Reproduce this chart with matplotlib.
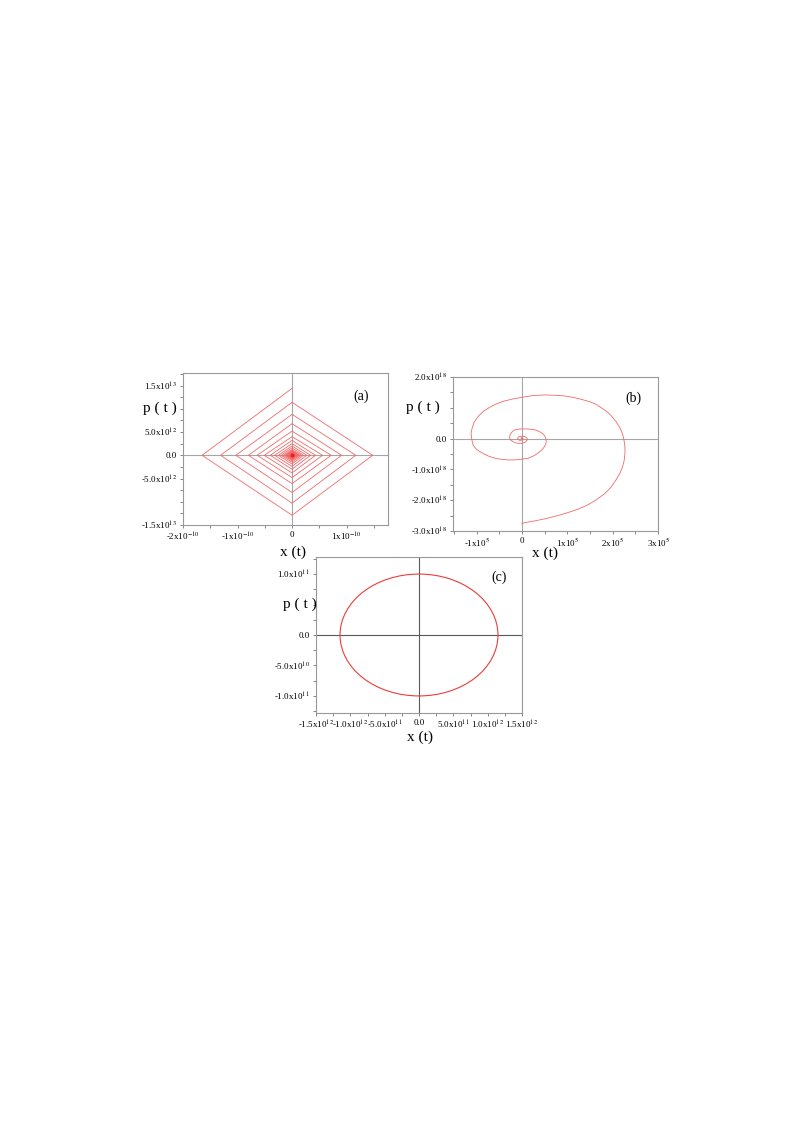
import numpy as np
import matplotlib
matplotlib.use("Agg")
from matplotlib import pyplot as plt
from matplotlib.patches import Ellipse
from matplotlib.ticker import MultipleLocator

plt.rcParams['font.family'] = ['Liberation Serif', 'DejaVu Serif']
plt.rcParams['mathtext.fontset'] = 'stix'

# (a) piecewise-linear spiral: vertices per turn (top, left, bottom, right)
# x in units of 1e-10, p in units of 1e13
a_top = [1.44, 1.14, 0.88, 0.68, 0.52, 0.40, 0.32, 0.25, 0.20, 0.16, 0.125, 0.10,
         0.078, 0.062, 0.049, 0.039, 0.031, 0.024, 0.019, 0.015, 0.012, 0.009,
         0.007, 0.0055, 0.0044, 0.0035, 0.0028]
a_left = [-1.65, -1.31, -1.03, -0.80, -0.64, -0.51, -0.40, -0.32, -0.25, -0.20, -0.16, -0.125,
          -0.099, -0.078, -0.062, -0.049, -0.039, -0.031, -0.024, -0.019, -0.015, -0.012,
          -0.0095, -0.0075, -0.006, -0.0047, -0.0037]
a_bottom = [-1.29, -1.03, -0.80, -0.61, -0.48, -0.38, -0.30, -0.24, -0.19, -0.15, -0.12, -0.095,
            -0.075, -0.059, -0.047, -0.037, -0.029, -0.023, -0.018, -0.014, -0.011, -0.008,
            -0.0064, -0.005, -0.004, -0.0032, -0.0025]
a_right = [1.48, 1.17, 0.91, 0.72, 0.56, 0.43, 0.34, 0.27, 0.21, 0.17, 0.135, 0.105,
           0.083, 0.066, 0.052, 0.041, 0.032, 0.026, 0.020, 0.016, 0.013, 0.010,
           0.008, 0.0063, 0.005, 0.004, 0.0032]

# (b) spiral: x in units of 1e5, p in units of 1e18
b_x = [0, 0.278, 0.498, 0.791, 1.011, 1.231, 1.451, 1.634, 1.817, 1.963, 2.073, 2.161,
       2.220, 2.256, 2.271, 2.271, 2.256, 2.234, 2.198, 2.147, 2.073, 1.985, 1.890, 1.766,
       1.634, 1.487, 1.304, 1.121, 0.938, 0.718, 0.498, 0.242, 0, -0.198, -0.381, -0.564,
       -0.711, -0.857, -0.967, -1.055, -1.099, -1.121, -1.114, -1.099, -1.077, -1.018,
       -0.930, -0.821, -0.711, -0.586, -0.454, -0.308, -0.161, -0.015, 0.132, 0.256,
       0.352, 0.440, 0.498, 0.527, 0.535, 0.527, 0.498, 0.447, 0.388, 0.300, 0.205,
       0.095, 0, -0.088, -0.161, -0.220, -0.256, -0.271, -0.271, -0.242, -0.198, -0.139,
       -0.073, 0, 0.059, 0.095, 0.117, 0.117, 0.103, 0.066, 0.022, -0.029, -0.073,
       -0.095, -0.088, -0.051, -0.007, 0.022, 0.022, 0, -0.022, -0.015, 0]
b_p = [-2.749, -2.673, -2.608, -2.500, -2.403, -2.294, -2.154, -1.991, -1.797, -1.580,
       -1.342, -1.126, -0.909, -0.693, -0.476, -0.281, -0.097, 0.065, 0.227, 0.390,
       0.552, 0.714, 0.855, 0.985, 1.115, 1.201, 1.277, 1.342, 1.385, 1.407, 1.418,
       1.396, 1.342, 1.288, 1.223, 1.126, 1.017, 0.877, 0.714, 0.530, 0.335, 0.173,
       0.065, -0.076, -0.206, -0.325, -0.422, -0.509, -0.584, -0.639, -0.671, -0.693,
       -0.693, -0.671, -0.639, -0.563, -0.476, -0.368, -0.260, -0.173, -0.097, 0.011,
       0.097, 0.173, 0.227, 0.281, 0.303, 0.314, 0.314, 0.303, 0.281, 0.216, 0.141,
       0.065, 0.011, -0.054, -0.097, -0.141, -0.152, -0.152, -0.130, -0.087, -0.043,
       0, 0.032, 0.065, 0.076, 0.076, 0.054, 0.011, -0.032, -0.054, -0.054, -0.022,
       0.011, 0.032, 0.022, 0, 0]

# (c) closed orbit
c_center = (0.0, 0.0)
c_x_amp = 1.15e12
c_p_amp = 1.0e11


def sci(m, e):
    return m + 'x10$^{' + e + '}$'


a_xticks = [-2e-10, -1e-10, 0, 1e-10]
a_xlabels = [sci('-2', '-10'), sci('-1', '-10'), '0', sci('1', '-10')]
a_yticks = [1.5e13, 1e13, 5e12, 0, -5e12, -1e13, -1.5e13]
a_ylabels = [sci('1.5', '13'), '', sci('5.0', '12'), '0.0', sci('-5.0', '12'), '', sci('-1.5', '13')]

b_xticks = [-1e5, 0, 1e5, 2e5, 3e5]
b_xlabels = [sci('-1', '5'), '0', sci('1', '5'), sci('2', '5'), sci('3', '5')]
b_yticks = [2e18, 1e18, 0, -1e18, -2e18, -3e18]
b_ylabels = [sci('2.0', '18'), '', '0.0', sci('-1.0', '18'), sci('-2.0', '18'), sci('-3.0', '18')]

c_xticks = [-1.5e12, -1e12, -5e11, 0, 5e11, 1e12, 1.5e12]
c_xlabels = [sci('-1.5', '12'), sci('-1.0', '12'), sci('-5.0', '11'), '0.0',
             sci('5.0', '11'), sci('1.0', '12'), sci('1.5', '12')]
c_yticks = [1e11, 5e10, 0, -5e10, -1e11]
c_ylabels = [sci('1.0', '11'), '', '0.0', sci('-5.0', '10'), sci('-1.0', '11')]

W, H = 788, 1134
fig = plt.figure(figsize=(W / 100, H / 100), dpi=100)
fig.patch.set_facecolor('white')


def make_axes(left, top, right, bottom):
    return fig.add_axes([left / W, 1 - bottom / H, (right - left) / W, (bottom - top) / H])


def style(ax, xt, xl, yt, yl, xminor, yminor, zero_col):
    ax.set_xticks(xt)
    ax.set_xticklabels(xl)
    ax.set_yticks(yt)
    ax.set_yticklabels(yl)
    ax.xaxis.set_minor_locator(MultipleLocator(xminor))
    ax.yaxis.set_minor_locator(MultipleLocator(yminor))
    ax.tick_params(which='both', direction='out', length=2.5, width=0.6, color='0.45',
                   labelsize=6.5, pad=2)
    for s in ax.spines.values():
        s.set_color('0.6')
        s.set_linewidth(0.8)
    ax.axhline(0, color=zero_col, lw=0.8, zorder=1)
    ax.axvline(0, color=zero_col, lw=0.8, zorder=1)


red = '#f06a6a'

# panel (a)
ax = make_axes(183, 373, 388, 525)
xs, ps = [], []
for t, l, b, r in zip(a_top, a_left, a_bottom, a_right):
    xs += [0, l * 1e-10, 0, r * 1e-10]
    ps += [t * 1e13, 0, b * 1e13, 0]
xs.append(0)
ps.append(0)
ax.plot(xs, ps, color=red, lw=0.6, zorder=2)
ax.plot([0], [0], 'o', color='#e82020', ms=3, mec='none', zorder=3)
ax.set_xlim(-2e-10, 1.76e-10)
ax.set_ylim(-1.5e13, 1.77e13)
style(ax, a_xticks, a_xlabels, a_yticks, a_ylabels, 0.5e-10, 2.5e12, '0.65')
ax.text(0.87, 0.85, '(a)', transform=ax.transAxes, fontsize=10, ha='center', va='center')
fig.text(160 / W, 1 - 408 / H, 'p ( t )', fontsize=11, ha='center', va='center')
fig.text(293 / W, 1 - 552 / H, 'x (t)', fontsize=11, ha='center', va='center')

# panel (b)
ax = make_axes(453, 377, 658, 531)
ax.plot(np.array(b_x) * 1e5, np.array(b_p) * 1e18, color=red, lw=0.6, zorder=2)
ax.set_xlim(-1.52e5, 3e5)
ax.set_ylim(-3e18, 2e18)
style(ax, b_xticks, b_xlabels, b_yticks, b_ylabels, 0.5e5, 0.5e18, '0.65')
ax.text(0.88, 0.86, '(b)', transform=ax.transAxes, fontsize=10, ha='center', va='center')
fig.text(423 / W, 1 - 407 / H, 'p ( t )', fontsize=11, ha='center', va='center')
fig.text(545 / W, 1 - 553 / H, 'x (t)', fontsize=11, ha='center', va='center')

# panel (c)
ax = make_axes(316, 557, 522, 713)
ax.add_patch(Ellipse(c_center, 2 * c_x_amp, 2 * c_p_amp, fill=False, edgecolor='#ee3b3b',
                     lw=0.8, zorder=2))
ax.set_xlim(-1.5e12, 1.5e12)
ax.set_ylim(-1.28e11, 1.28e11)
style(ax, c_xticks, c_xlabels, c_yticks, c_ylabels, 2.5e11, 2.5e10, '0.35')
ax.text(0.89, 0.87, '(c)', transform=ax.transAxes, fontsize=10, ha='center', va='center')
fig.text(300 / W, 1 - 604 / H, 'p ( t )', fontsize=11, ha='center', va='center')
fig.text(420 / W, 1 - 737 / H, 'x (t)', fontsize=11, ha='center', va='center')

fig.savefig('out.png', dpi=100, facecolor='white')
